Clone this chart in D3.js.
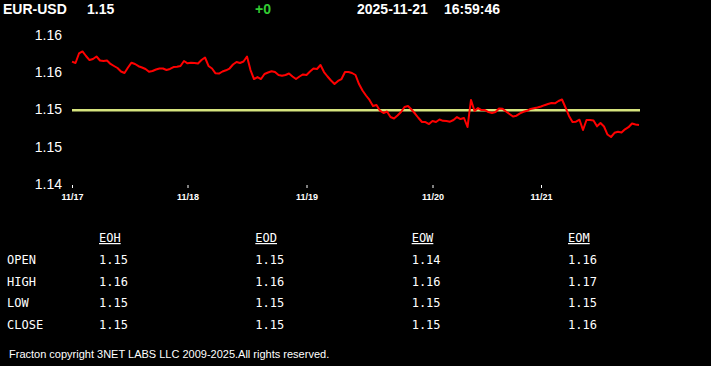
<!DOCTYPE html>
<html>
<head>
<meta charset="utf-8">
<script src="https://cdn.jsdelivr.net/npm/d3@7"></script>
<style>
  html, body { margin: 0; padding: 0; background: #000; }
  svg { display: block; }
</style>
</head>
<body>
<svg id="main-svg" width="711" height="366"></svg>
<script>
// quote header
const symbol = 'EUR-USD';
const lastPrice = '1.15';
const change = '+0';
const quoteDate = '2025-11-21';
const quoteTime = '16:59:46';

// intraday closes, one per sample, 11/17 .. 11/21
const prices = [
  1.15642, 1.15624, 1.15752, 1.15779, 1.15718, 1.15664, 1.15678, 1.15711, 1.15658, 1.15651,
  1.15658, 1.15611, 1.15584, 1.15557, 1.15510, 1.15490, 1.15564, 1.15628, 1.15611, 1.15581,
  1.15564, 1.15544, 1.15507, 1.15517, 1.15537, 1.15550, 1.15550, 1.15530, 1.15544, 1.15570,
  1.15575, 1.15584, 1.15651, 1.15620, 1.15627, 1.15624, 1.15617, 1.15664, 1.15698, 1.15584,
  1.15550, 1.15486, 1.15483, 1.15510, 1.15526, 1.15550, 1.15604, 1.15638, 1.15624, 1.15644,
  1.15711, 1.15530, 1.15409, 1.15436, 1.15409, 1.15477, 1.15497, 1.15513, 1.15503, 1.15463,
  1.15452, 1.15463, 1.15483, 1.15443, 1.15409, 1.15443, 1.15470, 1.15463, 1.15510, 1.15550,
  1.15544, 1.15597, 1.15503, 1.15443, 1.15389, 1.15342, 1.15383, 1.15409, 1.15503, 1.15503,
  1.15490, 1.15463, 1.15342, 1.15255, 1.15188, 1.15128, 1.15047, 1.15060, 1.14984, 1.14953,
  1.14973, 1.14899, 1.14879, 1.14919, 1.14966, 1.15034, 1.15047, 1.15000, 1.14946, 1.14886,
  1.14832, 1.14832, 1.14805, 1.14846, 1.14832, 1.14866, 1.14848, 1.14846, 1.14836, 1.14859,
  1.14899, 1.14872, 1.14886, 1.14765, 1.15128, 1.14980, 1.15020, 1.14993, 1.14993, 1.14966,
  1.14953, 1.14966, 1.15013, 1.15011, 1.14973, 1.14940, 1.14906, 1.14917, 1.14949, 1.14970,
  1.14983, 1.15007, 1.15017, 1.15027, 1.15040, 1.15058, 1.15074, 1.15087, 1.15083, 1.15114,
  1.15134, 1.15027, 1.14913, 1.14832, 1.14836, 1.14863, 1.14725, 1.14859, 1.14859, 1.14852,
  1.14774, 1.14819, 1.14772, 1.14664, 1.14631, 1.14687, 1.14701, 1.14690, 1.14734, 1.14762,
  1.14812, 1.14799, 1.14792
];
const refPrice = 1.1499;

// first sample of each day
const dayLabels = ['11/17', '11/18', '11/19', '11/20', '11/21'];
const dayStarts = [0, 33, 67, 103, 134];

const yTicks = [1.14, 1.145, 1.15, 1.155, 1.16];
const yTickLabels = ['1.14', '1.15', '1.15', '1.16', '1.16'];

// summary table
const periods = ['EOH', 'EOD', 'EOW', 'EOM'];
const rowNames = ['OPEN', 'HIGH', 'LOW', 'CLOSE'];
const eohValues = ['1.15', '1.16', '1.15', '1.15'];
const eodValues = ['1.15', '1.16', '1.15', '1.15'];
const eowValues = ['1.14', '1.16', '1.15', '1.15'];
const eomValues = ['1.16', '1.17', '1.15', '1.16'];
const copyright = 'Fracton copyright 3NET LABS LLC 2009-2025.All rights reserved.';

const svg = d3.select('#main-svg');
const sans = "'Liberation Sans', Arial, sans-serif";
const mono = "'DejaVu Sans Mono', monospace";

// header line
const header = svg.append('g')
  .attr('font-family', sans)
  .attr('font-weight', 'bold')
  .attr('font-size', 14)
  .attr('fill', '#fff');
header.append('text').attr('x', 3).attr('y', 14).text(symbol);
header.append('text').attr('x', 87).attr('y', 14).text(lastPrice);
header.append('text').attr('x', 255).attr('y', 14).attr('fill', '#3c3').text(change);
header.append('text').attr('x', 357).attr('y', 14).text(quoteDate);
header.append('text').attr('x', 444).attr('y', 14).text(quoteTime);

// chart
const x = d3.scaleLinear().domain([0, prices.length - 1]).range([72, 639]);
const y = d3.scaleLinear().domain([1.14, 1.16]).range([184, 35]);

const yAxis = svg.append('g')
  .attr('transform', 'translate(62,0)')
  .call(d3.axisLeft(y).tickValues(yTicks).tickSize(0).tickPadding(0)
    .tickFormat((d, i) => yTickLabels[i]));
yAxis.select('.domain').remove();
yAxis.selectAll('text')
  .attr('fill', '#fff')
  .attr('font-family', sans)
  .attr('font-size', 14);

const xAxis = svg.append('g')
  .attr('transform', 'translate(0,185)')
  .call(d3.axisBottom(x).tickValues(dayStarts).tickSize(3).tickPadding(6)
    .tickFormat((d, i) => dayLabels[i]));
xAxis.select('.domain').remove();
xAxis.selectAll('line').attr('stroke', '#fff');
xAxis.selectAll('text')
  .attr('fill', '#fff')
  .attr('font-family', sans)
  .attr('font-weight', 'bold')
  .attr('font-size', 9);

svg.append('line')
  .attr('x1', x(0)).attr('x2', x(prices.length - 1) + 1)
  .attr('y1', y(refPrice)).attr('y2', y(refPrice))
  .attr('stroke', '#d6e47e')
  .attr('stroke-width', 2.5);

const line = d3.line()
  .x((d, i) => x(i))
  .y(d => y(d));

svg.append('path')
  .datum(prices)
  .attr('fill', 'none')
  .attr('stroke', '#ff0000')
  .attr('stroke-width', 2)
  .attr('stroke-linejoin', 'round')
  .attr('d', line);

// table
const colX = d3.scalePoint().domain(periods).range([99, 568]);
const rowY = d3.scalePoint().domain(rowNames).range([264, 329]);
const columns = [eohValues, eodValues, eowValues, eomValues];

const table = svg.append('g')
  .attr('font-family', mono)
  .attr('font-size', 12)
  .attr('fill', '#fff');

table.selectAll('text.head')
  .data(periods)
  .join('text')
  .attr('class', 'head')
  .attr('x', d => colX(d))
  .attr('y', 242)
  .attr('text-decoration', 'underline')
  .text(d => d);

table.selectAll('text.row')
  .data(rowNames)
  .join('text')
  .attr('class', 'row')
  .attr('x', 7)
  .attr('y', d => rowY(d))
  .text(d => d);

periods.forEach((p, c) => {
  table.selectAll('text.c' + c)
    .data(columns[c])
    .join('text')
    .attr('class', 'c' + c)
    .attr('x', colX(p))
    .attr('y', (d, r) => rowY(rowNames[r]))
    .text(d => d);
});

svg.append('text')
  .attr('x', 9).attr('y', 358)
  .attr('font-family', sans)
  .attr('font-size', 11)
  .attr('fill', '#fff')
  .text(copyright);
</script>
</body>
</html>
